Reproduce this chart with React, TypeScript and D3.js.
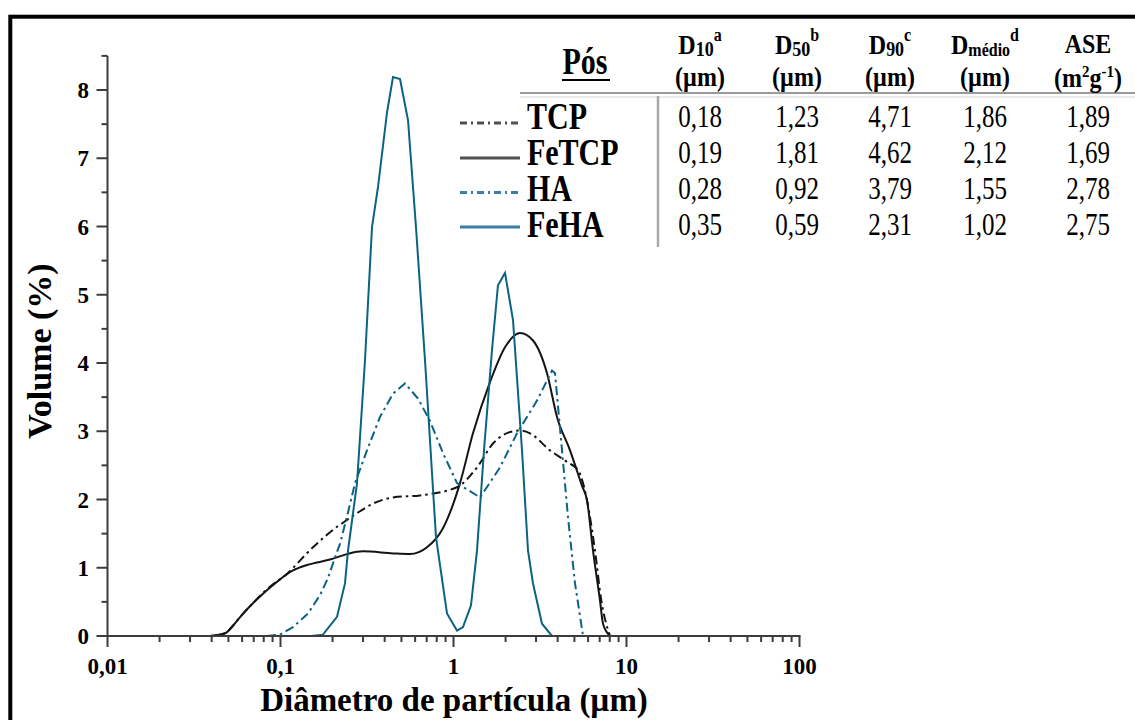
import React from 'react';
import * as d3 from 'd3';

// ---------- data ----------
const xTickValues = [0.01, 0.1, 1, 10, 100];
const xTickLabels = ['0,01', '0,1', '1', '10', '100'];
const yTickValues = [0, 1, 2, 3, 4, 5, 6, 7, 8];

const seriesNames = ['TCP', 'FeTCP', 'HA', 'FeHA'];

const tcpData: [number, number][] = [
  [0.0391, 0], [0.0478, 0.04], [0.0531, 0.15], [0.0599, 0.31], [0.0693, 0.48], [0.0792, 0.63],
  [0.0929, 0.78], [0.102, 0.85], [0.1541, 1.3], [0.2121, 1.6], [0.2297, 1.66], [0.2769, 1.8],
  [0.3425, 1.94], [0.447, 2.03], [0.6404, 2.06], [1.0476, 2.18], [1.3671, 2.47], [1.6916, 2.82],
  [2.2076, 3.0], [2.4234, 3.01], [2.7688, 2.97], [3.6128, 2.72], [4.5311, 2.55], [5.2457, 2.43],
  [5.606, 2.24], [6.576, 1.25], [7.12, 0.55], [8.03, 0],
];

const feTcpData: [number, number][] = [
  [0.0391, 0], [0.0478, 0.04], [0.0531, 0.15], [0.0599, 0.31], [0.0693, 0.48], [0.0792, 0.62],
  [0.0929, 0.77], [0.1181, 0.96], [0.1423, 1.04], [0.1932, 1.12], [0.2423, 1.2], [0.2998, 1.24],
  [0.447, 1.21], [0.5605, 1.2], [0.7027, 1.3], [0.8695, 1.58], [1.0905, 2.24], [1.2962, 2.97],
  [1.6255, 3.72], [1.9847, 4.23], [2.4234, 4.44], [2.8813, 4.33], [3.4713, 3.85], [3.9659, 3.21],
  [4.7153, 2.72], [5.5322, 2.2], [5.911, 1.99], [6.404, 1.25], [7.028, 0.52], [7.315, 0.18], [8.03, 0],
];

const haData: [number, number][] = [
  [0.0836, 0], [0.0993, 0.02], [0.1181, 0.13], [0.1442, 0.33], [0.1692, 0.6], [0.1882, 0.85],
  [0.2065, 1.15], [0.2207, 1.35], [0.2423, 1.75], [0.2696, 2.24], [0.3162, 2.72], [0.376, 3.21],
  [0.447, 3.55], [0.5244, 3.7], [0.6234, 3.48], [0.7314, 3.15], [0.8695, 2.68], [1.0476, 2.24],
  [1.4229, 2.03], [1.8566, 2.47], [2.3286, 2.97], [3.0392, 3.45], [3.7106, 3.89], [3.8614, 3.85],
  [4.239, 2.72], [4.59, 1.74], [5.0397, 0.77], [5.5322, 0.1], [5.606, 0],
];

const feHaData: [number, number][] = [
  [0.15, 0], [0.176, 0.02], [0.2121, 0.28], [0.2359, 0.77], [0.2456, 1.25], [0.2769, 2.24],
  [0.3079, 4.04], [0.338, 5.99], [0.3662, 6.58], [0.4126, 7.67], [0.447, 8.19], [0.4907, 8.16],
  [0.5458, 7.56], [0.607, 5.99], [0.6843, 4.04], [0.792, 1.45], [0.917, 0.33], [1.0476, 0.08],
  [1.1347, 0.13], [1.2623, 0.45], [1.3671, 1.25], [1.5006, 2.72], [1.6691, 4.19], [1.8077, 5.14],
  [1.9847, 5.32], [2.2076, 4.63], [2.4889, 2.72], [2.6958, 1.25], [2.8813, 0.77], [3.2478, 0.18],
  [3.7106, 0], [4.2, 0],
];

// table values
const d10Values = ['0,18', '0,19', '0,28', '0,35'];
const d50Values = ['1,23', '1,81', '0,92', '0,59'];
const d90Values = ['4,71', '4,62', '3,79', '2,31'];
const dMedioValues = ['1,86', '2,12', '1,55', '1,02'];
const aseValues = ['1,89', '1,69', '2,78', '2,75'];

const SERIF = '"Liberation Serif", "Times New Roman", Times, serif';

export default function App() {
  const W = 1135;
  const H = 720;
  const x = d3.scaleLog().domain([0.01, 100]).range([107.5, 799.5]);
  const y = d3.scaleLinear().domain([0, 8]).range([636, 90]);

  const axisColor = '#3c3c3c';
  const black = '#141414';
  const teal = '#0c6283';

  const smooth = d3
    .line<[number, number]>()
    .x((d) => x(d[0]))
    .y((d) => y(d[1]))
    .curve(d3.curveMonotoneX);
  const linear = d3
    .line<[number, number]>()
    .x((d) => x(d[0]))
    .y((d) => y(d[1]));

  const dashDot = '9,4,2.5,4';

  // minor ticks
  const xMinor: number[] = [];
  for (let e = -2; e < 2; e++) {
    for (let m = 2; m <= 9; m++) xMinor.push(m * Math.pow(10, e));
  }
  const yMinor: number[] = [];
  for (let v = 0.5; v <= 8.5; v += 1) yMinor.push(v);

  const legendStyles = [
    { color: '#505050', dash: '7,4,2,4', width: 3 },
    { color: '#505050', dash: undefined, width: 3 },
    { color: '#3a7fa3', dash: '7,4,2,4', width: 3 },
    { color: '#3a7fa3', dash: undefined, width: 3 },
  ];
  const sampleY = [123, 158, 192.5, 227];
  const rowCenter = [116, 152, 188, 224];
  const SY = 1.28; // vertical stretch of the table text

  const colX = [700, 797, 890, 985, 1088];
  const colValues = [d10Values, d50Values, d90Values, dMedioValues, aseValues];

  const st = (tx: number, ty: number, sy: number = SY) => `translate(${tx},${ty}) scale(1,${sy})`;

  return (
    <svg
      width={W}
      height={H}
      style={{ position: 'absolute', left: 0, top: 0, background: '#fff', fontFamily: SERIF }}
    >
      <rect x={0} y={0} width={W} height={H} fill="#fff" />
      {/* frame */}
      <rect x={10.3} y={16.7} width={1300} height={900} fill="none" stroke="#000" strokeWidth={4} />

      {/* curves */}
      <path d={smooth(tcpData) || ''} fill="none" stroke={black} strokeWidth={2} strokeDasharray={dashDot} />
      <path d={smooth(feTcpData) || ''} fill="none" stroke={black} strokeWidth={2} />
      <path d={linear(haData) || ''} fill="none" stroke={teal} strokeWidth={2} strokeDasharray={dashDot} />
      <path d={linear(feHaData) || ''} fill="none" stroke={teal} strokeWidth={2} />

      {/* y axis */}
      <line x1={x(0.01)} x2={x(0.01)} y1={y(0) + 1} y2={y(8.5)} stroke={axisColor} strokeWidth={2} />
      {yTickValues.map((v) => (
        <g key={'yt' + v}>
          <line x1={x(0.01) - 11} x2={x(0.01)} y1={y(v)} y2={y(v)} stroke={axisColor} strokeWidth={2} />
          <text x={89} y={y(v) + 8} textAnchor="end" fontSize={23} fontWeight="bold" fill="#000">
            {v}
          </text>
        </g>
      ))}
      {yMinor.map((v) => (
        <line key={'ym' + v} x1={x(0.01) - 6} x2={x(0.01)} y1={y(v)} y2={y(v)} stroke={axisColor} strokeWidth={2} />
      ))}

      {/* x axis */}
      <line x1={x(0.01) - 1} x2={x(100) + 1} y1={y(0)} y2={y(0)} stroke={axisColor} strokeWidth={2} />
      {xTickValues.map((v, i) => (
        <g key={'xt' + v}>
          <line x1={x(v)} x2={x(v)} y1={y(0)} y2={y(0) + 11} stroke={axisColor} strokeWidth={2} />
          <text x={x(v)} y={674} textAnchor="middle" fontSize={23} fontWeight="bold" fill="#000">
            {xTickLabels[i]}
          </text>
        </g>
      ))}
      {xMinor.map((v) => (
        <line key={'xm' + v} x1={x(v)} x2={x(v)} y1={y(0)} y2={y(0) + 6} stroke={axisColor} strokeWidth={2} />
      ))}

      {/* axis titles */}
      <text x={454} y={711} textAnchor="middle" fontSize={33} fontWeight="bold" fill="#000">
        Diâmetro de partícula (µm)
      </text>
      <text
        transform="translate(51,351) rotate(-90)"
        textAnchor="middle"
        fontSize={34}
        fontWeight="bold"
        fill="#000"
      >
        Volume (%)
      </text>

      {/* legend */}
      {seriesNames.map((name, i) => (
        <g key={'lg' + name}>
          <line
            x1={460}
            x2={520}
            y1={sampleY[i]}
            y2={sampleY[i]}
            stroke={legendStyles[i].color}
            strokeWidth={legendStyles[i].width}
            strokeDasharray={legendStyles[i].dash}
          />
          <text transform={st(527, rowCenter[i] + 12.5)} fontSize={30} fontWeight="bold" fill="#000">
            {name}
          </text>
        </g>
      ))}

      {/* table */}
      <text transform={st(585, 74)} textAnchor="middle" fontSize={30} fontWeight="bold" fill="#000">
        Pós
      </text>
      <line x1={562} x2={610} y1={80} y2={80} stroke="#000" strokeWidth={2} />
      <line x1={520} x2={1135} y1={93} y2={93} stroke="#9a9a9a" strokeWidth={2} />
      <line x1={520} x2={1135} y1={97} y2={97} stroke="#d8d8d8" strokeWidth={1} />
      <line x1={658} x2={658} y1={96} y2={247} stroke="#a8a8a8" strokeWidth={2.5} />

      {/* headers */}
      <g fontWeight="bold" fill="#000" textAnchor="middle">
        <text transform={st(colX[0], 54, 1.15)} fontSize={24}>
          D<tspan fontSize={18} dy={2}>10</tspan>
          <tspan fontSize={16} dy={-13}>a</tspan>
        </text>
        <text transform={st(colX[1], 54, 1.15)} fontSize={24}>
          D<tspan fontSize={18} dy={2}>50</tspan>
          <tspan fontSize={16} dy={-13}>b</tspan>
        </text>
        <text transform={st(colX[2], 54, 1.15)} fontSize={24}>
          D<tspan fontSize={18} dy={2}>90</tspan>
          <tspan fontSize={16} dy={-13}>c</tspan>
        </text>
        <text transform={st(colX[3], 54, 1.15)} fontSize={24}>
          D<tspan fontSize={16} dy={2}>médio</tspan>
          <tspan fontSize={16} dy={-13}>d</tspan>
        </text>
        <text transform={st(colX[4], 53, 1.15)} fontSize={24}>
          ASE
        </text>
        {[0, 1, 2, 3].map((i) => (
          <text key={'u' + i} transform={st(colX[i], 86, 1.15)} fontSize={24}>
            (µm)
          </text>
        ))}
        <text transform={st(colX[4], 87, 1.15)} fontSize={24}>
          (m<tspan fontSize={15} dy={-9}>2</tspan>
          <tspan dy={9}>g</tspan>
          <tspan fontSize={15} dy={-9}>-1</tspan>
          <tspan dy={9}>)</tspan>
        </text>
      </g>

      {/* values */}
      {colValues.map((vals, c) =>
        vals.map((v, r) => (
          <text
            key={'v' + c + '-' + r}
            transform={st(colX[c], rowCenter[r] + 11)}
            textAnchor="middle"
            fontSize={25}
            fill="#000"
          >
            {v}
          </text>
        ))
      )}
    </svg>
  );
}
